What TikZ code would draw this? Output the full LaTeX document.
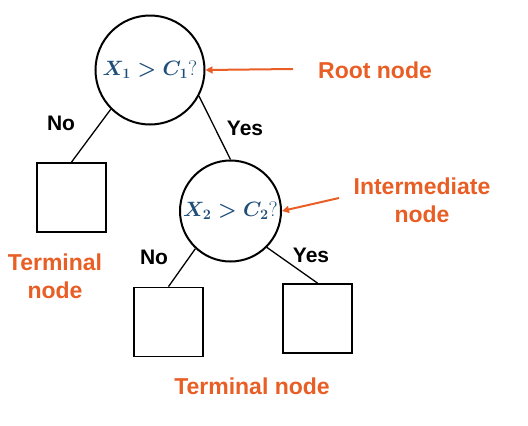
\documentclass[tikz,border=0pt]{standalone}
\usepackage{amsmath, amssymb}
\usepackage[no-math]{fontspec}
\usepackage{xcolor}
\usepackage{tikz}
\usetikzlibrary{arrows.meta}
\newfontfamily\labelfont{Liberation Sans}
\definecolor{calloutorange}{RGB}{232,94,36}
\definecolor{testblue}{RGB}{31,78,121}
\tikzset{
    split/.style={circle, draw=black, line width=2pt, minimum size=109pt, inner sep=0pt, text=testblue, font=\fontsize{21}{24}\selectfont\boldmath},
    leaf/.style={rectangle, draw=black, line width=1.8pt, minimum size=69pt, inner sep=0pt},
    edge/.style={draw=black, line width=1.3pt},
    answer/.style={font=\labelfont\bfseries\fontsize{21}{24}\selectfont},
    callout/.style={text=calloutorange, font=\labelfont\bfseries\fontsize{23}{28}\selectfont, align=center},
    pointer/.style={draw=calloutorange, line width=2pt, -{Triangle[length=7pt, width=7pt]}}
}

\begin{document}
\begin{tikzpicture}[x=1pt, y=-1pt]
    \useasboundingbox (0,0) rectangle (528,426);
    % tests
    \node[split] (root) at (150,70) {$X_1 > C_1$?};
    \node[split, minimum size=101pt] (mid) at (230.5,211) {$X_2 > C_2$?};
    % terminal boxes
    \node[leaf] (t1) at (71.5,197.5) {};
    \node[leaf] (t2) at (168.5,322) {};
    \node[leaf] (t3) at (317.5,318.5) {};
    \draw[edge] (root.-135) -- (t1.north);
    \draw[edge] (root.-28) -- (mid.north);
    \draw[edge] (mid.-133) -- (t2.north);
    \draw[edge] (mid.-45) -- (t3.north);
    \node[answer] (no1) at (61,123) {No};
    \node[answer] (yes1) at (245,128) {Yes};
    \node[answer] (no2) at (154,257) {No};
    \node[answer] (yes2) at (311,255) {Yes};
    % callouts
    \node[callout] (rootlbl) at (375,70) {Root node};
    \node[callout] (midlbl) at (422,200) {Intermediate\\node};
    \node[callout] (leaflbl) at (55,276) {Terminal\\node};
    \node[callout] (leaflbl2) at (252,386) {Terminal node};
    \coordinate (rootarr) at (293,69);
    \coordinate (midarr) at (339,198);
    \draw[pointer] (rootarr) -- (root.east);
    \draw[pointer] (midarr) -- (mid.east);
\end{tikzpicture}
\end{document}
